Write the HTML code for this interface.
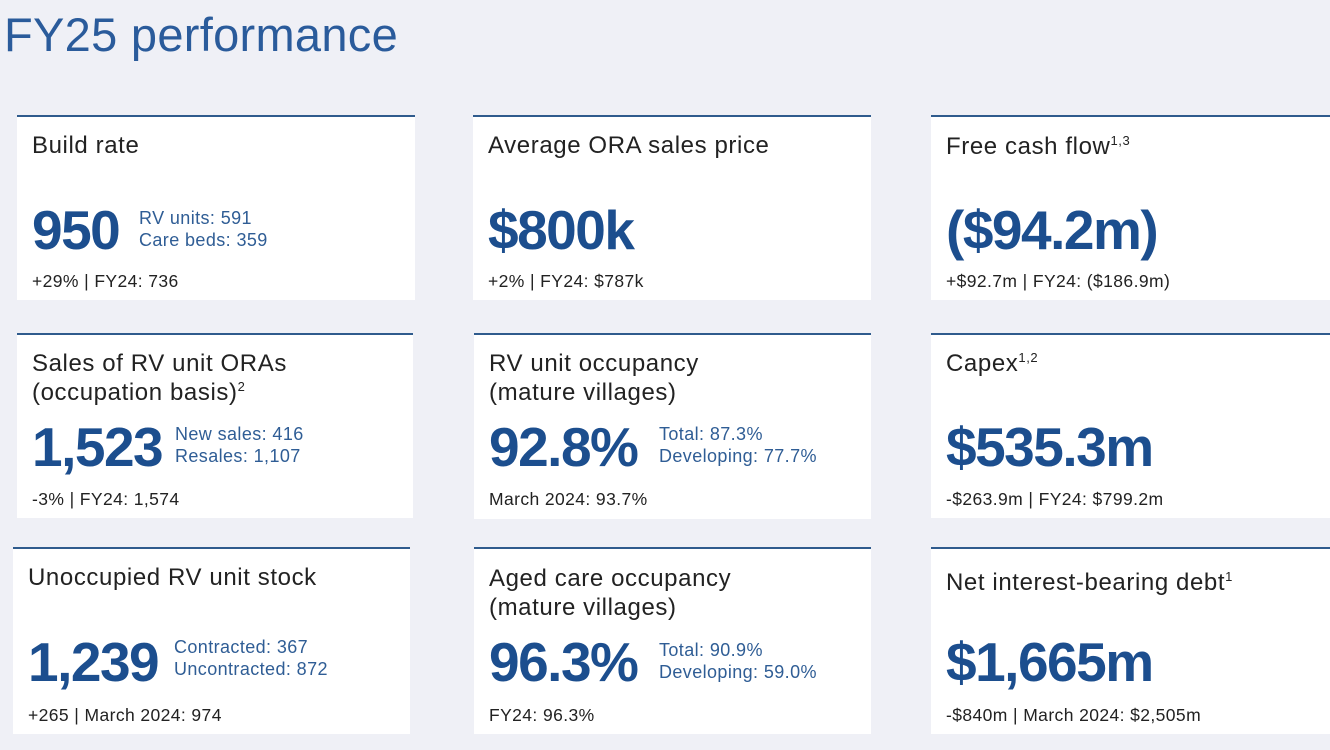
<!DOCTYPE html>
<html><head><meta charset="utf-8"><style>
body{margin:0;width:1330px;height:750px;background:#eff0f6;position:relative;overflow:hidden;font-family:"Liberation Sans",sans-serif;}
.t{position:absolute;left:4px;top:11px;font-size:47px;color:#2a5b9b;line-height:1;letter-spacing:0.3px;}
.c{position:absolute;background:#fff;border-top:2px solid #2f5b8d;}
.c div{position:absolute;line-height:1;white-space:nowrap;}
.h{font-size:24px;color:#222;letter-spacing:0.6px;}
.n{font-size:55px;font-weight:bold;color:#1c4e8e;letter-spacing:-1.5px;}
.s{font-size:18px;color:#2f5d95;line-height:1.22!important;letter-spacing:0.4px;}
.f{font-size:17.5px;color:#222;letter-spacing:0.4px;}
sup{font-size:13px;}
</style></head><body>
<div class="t">FY25 performance</div>

<div class="c" style="left:17px;top:115px;width:398px;height:183px">
<div class="h" style="left:15px;top:17px">Build rate</div>
<div class="n" style="left:15px;top:86px">950</div>
<div class="s" style="left:122px;top:91px">RV units: 591<br>Care beds: 359</div>
<div class="f" style="left:15px;top:156px">+29% | FY24: 736</div>
</div>
<div class="c" style="left:473px;top:115px;width:398px;height:183px">
<div class="h" style="left:15px;top:17px">Average ORA sales price</div>
<div class="n" style="left:15px;top:86px">$800k</div>
<div class="f" style="left:15px;top:156px">+2% | FY24: $787k</div>
</div>
<div class="c" style="left:931px;top:115px;width:399px;height:183px">
<div class="h" style="left:15px;top:17px">Free cash flow<sup>1,3</sup></div>
<div class="n" style="left:15px;top:86px">($94.2m)</div>
<div class="f" style="left:15px;top:156px">+$92.7m | FY24: ($186.9m)</div>
</div>

<div class="c" style="left:17px;top:333px;width:396px;height:183px">
<div class="h" style="left:15px;top:15px;line-height:1.2">Sales of RV unit ORAs<br>(occupation basis)<sup>2</sup></div>
<div class="n" style="left:15px;top:85px">1,523</div>
<div class="s" style="left:158px;top:89px">New sales: 416<br>Resales: 1,107</div>
<div class="f" style="left:15px;top:156px">-3% | FY24: 1,574</div>
</div>
<div class="c" style="left:474px;top:333px;width:397px;height:184px">
<div class="h" style="left:15px;top:15px;line-height:1.2">RV unit occupancy<br>(mature villages)</div>
<div class="n" style="left:15px;top:85px">92.8%</div>
<div class="s" style="left:185px;top:89px">Total: 87.3%<br>Developing: 77.7%</div>
<div class="f" style="left:15px;top:156px">March 2024: 93.7%</div>
</div>
<div class="c" style="left:931px;top:333px;width:399px;height:183px">
<div class="h" style="left:15px;top:16px">Capex<sup>1,2</sup></div>
<div class="n" style="left:15px;top:85px">$535.3m</div>
<div class="f" style="left:15px;top:156px">-$263.9m | FY24: $799.2m</div>
</div>

<div class="c" style="left:13px;top:547px;width:397px;height:185px">
<div class="h" style="left:15px;top:17px">Unoccupied RV unit stock</div>
<div class="n" style="left:15px;top:86px">1,239</div>
<div class="s" style="left:161px;top:88px">Contracted: 367<br>Uncontracted: 872</div>
<div class="f" style="left:15px;top:158px">+265 | March 2024: 974</div>
</div>
<div class="c" style="left:474px;top:547px;width:397px;height:185px">
<div class="h" style="left:15px;top:16px;line-height:1.2">Aged care occupancy<br>(mature villages)</div>
<div class="n" style="left:15px;top:86px">96.3%</div>
<div class="s" style="left:185px;top:91px">Total: 90.9%<br>Developing: 59.0%</div>
<div class="f" style="left:15px;top:158px">FY24: 96.3%</div>
</div>
<div class="c" style="left:931px;top:547px;width:399px;height:185px">
<div class="h" style="left:15px;top:21px">Net interest-bearing debt<sup>1</sup></div>
<div class="n" style="left:15px;top:86px">$1,665m</div>
<div class="f" style="left:15px;top:158px">-$840m | March 2024: $2,505m</div>
</div>
</body></html>
